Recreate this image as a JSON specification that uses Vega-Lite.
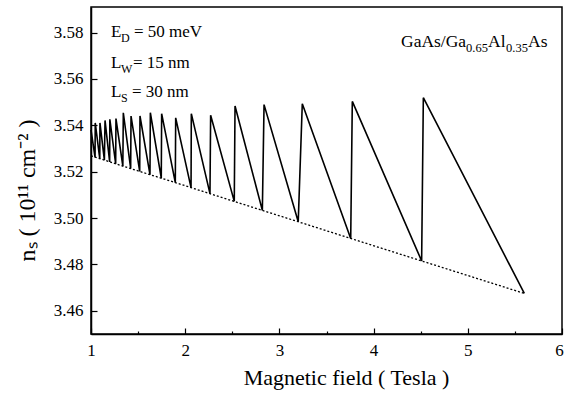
{
  "$schema": "https://vega.github.io/schema/vega-lite/v6.json",
  "width": 471,
  "height": 327,
  "autosize": {"type": "none"},
  "padding": {"left": 91, "top": 7, "right": 2, "bottom": 60},
  "background": "white",
  "config": {
    "view": {"stroke": "black", "strokeWidth": 1.5},
    "font": "Liberation Serif, Times New Roman, DejaVu Serif, serif",
    "text": {"font": "Liberation Serif, Times New Roman, DejaVu Serif, serif", "color": "black", "align": "left", "baseline": "alphabetic"},
    "axis": {
      "domainColor": "black", "domainWidth": 1.5, "tickColor": "black", "tickWidth": 1.2,
      "labelColor": "black", "titleColor": "black",
      "labelFont": "Liberation Serif, Times New Roman, DejaVu Serif, serif",
      "titleFont": "Liberation Serif, Times New Roman, DejaVu Serif, serif",
      "labelFontSize": 17, "titleFontSize": 22, "titleFontWeight": "normal", "grid": false
    }
  },
  "datasets": {
    "saw": [
      {"B": 1.0, "ns": 3.538},
      {"B": 1.043, "ns": 3.5262}, {"B": 1.045, "ns": 3.541},
      {"B": 1.093, "ns": 3.5256}, {"B": 1.095, "ns": 3.541},
      {"B": 1.142, "ns": 3.525}, {"B": 1.149, "ns": 3.5421},
      {"B": 1.198, "ns": 3.5242}, {"B": 1.2, "ns": 3.5426},
      {"B": 1.262, "ns": 3.5234}, {"B": 1.265, "ns": 3.5429},
      {"B": 1.338, "ns": 3.5224}, {"B": 1.343, "ns": 3.5454},
      {"B": 1.421, "ns": 3.5214}, {"B": 1.425, "ns": 3.544},
      {"B": 1.517, "ns": 3.5201}, {"B": 1.52, "ns": 3.544},
      {"B": 1.626, "ns": 3.5187}, {"B": 1.63, "ns": 3.5454},
      {"B": 1.746, "ns": 3.5172}, {"B": 1.75, "ns": 3.545},
      {"B": 1.895, "ns": 3.5153}, {"B": 1.899, "ns": 3.5432},
      {"B": 2.062, "ns": 3.5131}, {"B": 2.065, "ns": 3.545},
      {"B": 2.263, "ns": 3.5105}, {"B": 2.27, "ns": 3.5443},
      {"B": 2.521, "ns": 3.5072}, {"B": 2.529, "ns": 3.5483},
      {"B": 2.819, "ns": 3.5033}, {"B": 2.837, "ns": 3.5489},
      {"B": 3.2, "ns": 3.4984}, {"B": 3.243, "ns": 3.5493},
      {"B": 3.757, "ns": 3.4912}, {"B": 3.774, "ns": 3.5503},
      {"B": 4.51, "ns": 3.4815}, {"B": 4.528, "ns": 3.5519},
      {"B": 5.6, "ns": 3.4675}
    ],
    "env": [
      {"B": 1.0, "ns": 3.5268}, {"B": 1.142, "ns": 3.525}, {"B": 1.338, "ns": 3.5224},
      {"B": 1.626, "ns": 3.5187}, {"B": 1.895, "ns": 3.5153}, {"B": 2.263, "ns": 3.5105},
      {"B": 2.819, "ns": 3.5033}, {"B": 3.2, "ns": 3.4984}, {"B": 3.757, "ns": 3.4912},
      {"B": 4.51, "ns": 3.4815}, {"B": 5.6, "ns": 3.4675}
    ],
    "one": [{"k": 1}]
  },
  "layer": [
    {
      "data": {"name": "env"},
      "mark": {"type": "line", "color": "black", "strokeWidth": 1.3, "strokeDash": [2, 2]},
      "encoding": {
        "x": {
          "field": "B", "type": "quantitative",
          "scale": {"domain": [1, 6], "nice": false, "zero": false},
          "axis": {
            "title": "Magnetic field ( Tesla )",
            "labelFont": "Liberation Serif", "titleFont": "Liberation Serif",
            "values": [1, 1.5, 2, 2.5, 3, 3.5, 4, 4.5, 5, 5.5, 6],
            "labelExpr": "datum.value % 1 === 0 ? format(datum.value, 'd') : ''",
            "tickSize": {"condition": {"test": "datum.value % 1 !== 0", "value": -3}, "value": -6},
            "labelOffset": {"condition": {"test": "datum.value === 6", "value": -3}, "value": 0},
            "labelPadding": 14,
            "titlePadding": 9,
            "titleX": 255,
            "labelFlush": false
          }
        },
        "y": {
          "field": "ns", "type": "quantitative",
          "scale": {"domain": [3.45, 3.591], "nice": false, "zero": false},
          "axis": {
            "title": "nₛ ( 10¹¹ cm⁻² )",
            "labelFont": "Liberation Serif", "titleFont": "Liberation Serif",
            "values": [3.46, 3.47, 3.48, 3.49, 3.5, 3.51, 3.52, 3.53, 3.54, 3.55, 3.56, 3.57, 3.58],
            "labelExpr": "round(datum.value*100) % 2 === 0 ? format(datum.value, '.2f') : ''",
            "tickSize": {"condition": {"test": "round(datum.value*100) % 2 !== 0", "value": -3}, "value": -6},
            "labelPadding": 14,
            "titleFontSize": 24,
            "titleX": -64,
            "titleY": 183,
            "titleBaseline": "middle",
            "labelFlush": false
          }
        }
      }
    },
    {
      "data": {"name": "saw"},
      "mark": {"type": "line", "color": "black", "strokeWidth": 1.6},
      "encoding": {
        "x": {"field": "B", "type": "quantitative"},
        "y": {"field": "ns", "type": "quantitative"}
      }
    },
    {"data": {"name": "one"}, "mark": {"type": "text", "fontSize": 17},
     "encoding": {"x": {"datum": 1.2123}, "y": {"datum": 3.5781}, "text": {"value": "E"}}},
    {"data": {"name": "one"}, "mark": {"type": "text", "fontSize": 12, "dx": 10, "dy": 5},
     "encoding": {"x": {"datum": 1.2123}, "y": {"datum": 3.5781}, "text": {"value": "D"}}},
    {"data": {"name": "one"}, "mark": {"type": "text", "fontSize": 17, "dx": 23},
     "encoding": {"x": {"datum": 1.2123}, "y": {"datum": 3.5781}, "text": {"value": "= 50 meV"}}},
    {"data": {"name": "one"}, "mark": {"type": "text", "fontSize": 17},
     "encoding": {"x": {"datum": 1.2123}, "y": {"datum": 3.5645}, "text": {"value": "L"}}},
    {"data": {"name": "one"}, "mark": {"type": "text", "fontSize": 12, "dx": 10, "dy": 5},
     "encoding": {"x": {"datum": 1.2123}, "y": {"datum": 3.5645}, "text": {"value": "W"}}},
    {"data": {"name": "one"}, "mark": {"type": "text", "fontSize": 17, "dx": 22},
     "encoding": {"x": {"datum": 1.2123}, "y": {"datum": 3.5645}, "text": {"value": "= 15 nm"}}},
    {"data": {"name": "one"}, "mark": {"type": "text", "fontSize": 17},
     "encoding": {"x": {"datum": 1.2123}, "y": {"datum": 3.5522}, "text": {"value": "L"}}},
    {"data": {"name": "one"}, "mark": {"type": "text", "fontSize": 12, "dx": 10, "dy": 5},
     "encoding": {"x": {"datum": 1.2123}, "y": {"datum": 3.5522}, "text": {"value": "S"}}},
    {"data": {"name": "one"}, "mark": {"type": "text", "fontSize": 17, "dx": 21},
     "encoding": {"x": {"datum": 1.2123}, "y": {"datum": 3.5522}, "text": {"value": "= 30 nm"}}},
    {"data": {"name": "one"}, "mark": {"type": "text", "fontSize": 17.5},
     "encoding": {"x": {"datum": 4.291}, "y": {"datum": 3.5738}, "text": {"value": "GaAs/Ga"}}},
    {"data": {"name": "one"}, "mark": {"type": "text", "fontSize": 12.5, "dx": 65, "dy": 5},
     "encoding": {"x": {"datum": 4.291}, "y": {"datum": 3.5738}, "text": {"value": "0.65"}}},
    {"data": {"name": "one"}, "mark": {"type": "text", "fontSize": 17.5, "dx": 87},
     "encoding": {"x": {"datum": 4.291}, "y": {"datum": 3.5738}, "text": {"value": "Al"}}},
    {"data": {"name": "one"}, "mark": {"type": "text", "fontSize": 12.5, "dx": 105, "dy": 5},
     "encoding": {"x": {"datum": 4.291}, "y": {"datum": 3.5738}, "text": {"value": "0.35"}}},
    {"data": {"name": "one"}, "mark": {"type": "text", "fontSize": 17.5, "dx": 127},
     "encoding": {"x": {"datum": 4.291}, "y": {"datum": 3.5738}, "text": {"value": "As"}}}
  ]
}
